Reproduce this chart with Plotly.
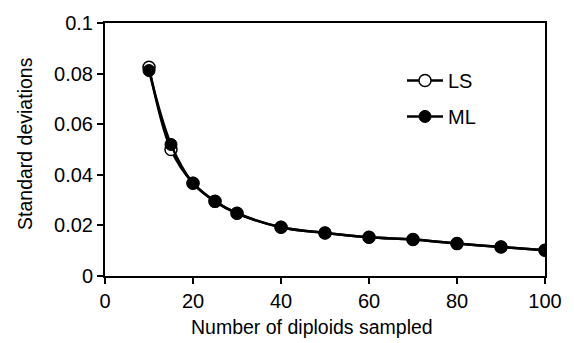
import plotly.graph_objects as go

x_vals = [10, 15, 20, 25, 30, 40, 50, 60, 70, 80, 90, 100]
ls_vals = [0.0825, 0.0500, 0.0367, 0.0295, 0.0248, 0.0193, 0.0170, 0.0153, 0.0144, 0.0128, 0.0115, 0.0102]
ml_vals = [0.0812, 0.0520, 0.0367, 0.0295, 0.0248, 0.0193, 0.0170, 0.0153, 0.0144, 0.0128, 0.0115, 0.0102]

font = "Liberation Sans, Arial, sans-serif"

fig = go.Figure()
fig.add_trace(go.Scatter(
    x=x_vals, y=ls_vals, name="LS", mode="lines+markers",
    line=dict(color="black", width=2.5, shape="spline"),
    marker=dict(symbol="circle", size=12, color="white", line=dict(color="black", width=1.5)),
    legendgroup="a",
))
fig.add_trace(go.Scatter(
    x=x_vals, y=ml_vals, name="ML", mode="lines+markers",
    line=dict(color="black", width=2.5, shape="spline"),
    marker=dict(symbol="circle", size=12, color="black", line=dict(color="black", width=1)),
    legendgroup="b",
))

fig.update_layout(
    width=574, height=343,
    margin=dict(l=105, r=24, t=21, b=67),
    paper_bgcolor="white", plot_bgcolor="white",
    font=dict(family=font, size=19, color="black"),
    showlegend=True,
    legend=dict(x=0.675, y=0.85, xanchor="left", yanchor="top",
                bgcolor="rgba(0,0,0,0)", font=dict(size=20),
                tracegroupgap=7, itemwidth=36),
    xaxis=dict(range=[0, 100], tickvals=[0, 20, 40, 60, 80, 100],
               ticks="outside", ticklen=6, tickwidth=1.5, tickcolor="black",
               showline=True, linecolor="black", linewidth=2, mirror=True,
               showgrid=False, zeroline=False,
               tickfont=dict(size=20)),
    yaxis=dict(range=[0, 0.1], tickvals=[0, 0.02, 0.04, 0.06, 0.08, 0.1],
               ticktext=["0", "0.02", "0.04", "0.06", "0.08", "0.1"],
               ticks="outside", ticklen=6, tickwidth=1.5, tickcolor="black",
               showline=True, linecolor="black", linewidth=2, mirror=True,
               showgrid=False, zeroline=False,
               tickfont=dict(size=20)),
    annotations=[
        dict(text="Number of diploids sampled", xref="paper", yref="paper",
             x=(314 - 105) / 445, y=(343 - 327 - 67) / 255,
             xanchor="center", yanchor="middle", showarrow=False,
             font=dict(size=19.5)),
        dict(text="Standard deviations", xref="paper", yref="paper",
             x=(24 - 105) / 445, y=(276 - 142) / 255,
             xanchor="center", yanchor="middle", showarrow=False,
             textangle=-90, font=dict(size=19.5)),
    ],
)

fig.write_html("out.html")
